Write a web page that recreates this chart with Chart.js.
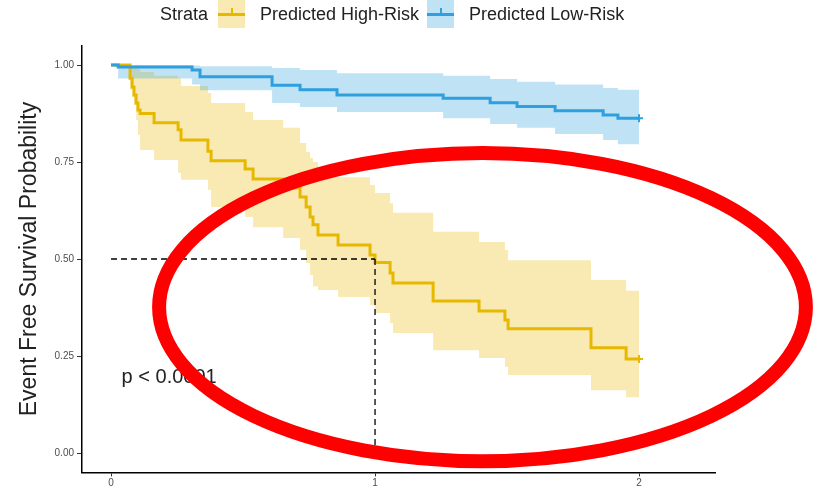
<!DOCTYPE html>
<html>
<head>
<meta charset="utf-8">
<script src="https://cdn.jsdelivr.net/npm/chart.js@4.4.1/dist/chart.umd.min.js"></script>
<style>
html,body{margin:0;padding:0;background:#fff;}
#wrap{position:relative;width:816px;height:490px;font-family:"Liberation Sans",Arial,Helvetica,sans-serif;}
canvas{position:absolute;left:0;top:0;}
#legend{position:absolute;left:160px;top:0;height:28px;display:flex;align-items:center;font-size:18px;color:#222;white-space:nowrap;}
#legend .key{position:relative;width:27px;height:28px;}
#legend .key .ln{position:absolute;left:0;right:0;top:12.5px;height:3px;}
#legend .key .tk{position:absolute;left:12.5px;width:2px;top:8px;height:7px;}
</style>
</head>
<body>
<div id="wrap">
  <canvas id="km" width="816" height="490"></canvas>
  <div id="legend"></div>
</div>
<script>
// Kaplan-Meier estimates (time in years) with 95% confidence limits
const hiTime  = [0, 0.072, 0.080, 0.087, 0.095, 0.102, 0.110, 0.163, 0.254, 0.265, 0.367, 0.379, 0.508, 0.538, 0.652, 0.716, 0.739, 0.754, 0.765, 0.784, 0.860, 0.981, 1.000, 1.057, 1.068, 1.220, 1.394, 1.492, 1.504, 1.818, 1.951, 2.000];
const hiSurv  = [1, 0.966, 0.943, 0.923, 0.902, 0.884, 0.875, 0.851, 0.833, 0.807, 0.778, 0.753, 0.732, 0.706, 0.683, 0.660, 0.634, 0.608, 0.588, 0.562, 0.536, 0.510, 0.491, 0.464, 0.438, 0.392, 0.366, 0.343, 0.320, 0.271, 0.242, 0.242];
const hiUpper = [1, 1, 0.997, 0.995, 0.992, 0.990, 0.982, 0.972, 0.966, 0.946, 0.928, 0.902, 0.879, 0.858, 0.838, 0.799, 0.776, 0.760, 0.750, 0.737, 0.711, 0.691, 0.670, 0.644, 0.619, 0.570, 0.544, 0.523, 0.497, 0.446, 0.418, 0.418];
const hiLower = [1, 0.936, 0.917, 0.897, 0.858, 0.820, 0.781, 0.755, 0.722, 0.704, 0.678, 0.634, 0.608, 0.582, 0.554, 0.523, 0.490, 0.459, 0.430, 0.420, 0.402, 0.381, 0.361, 0.335, 0.309, 0.265, 0.245, 0.222, 0.201, 0.162, 0.144, 0.144];

const loTime  = [0, 0.027, 0.307, 0.337, 0.610, 0.716, 0.856, 1.258, 1.436, 1.538, 1.682, 1.864, 1.920, 2.000];
const loSurv  = [1, 0.995, 0.987, 0.970, 0.948, 0.936, 0.923, 0.914, 0.903, 0.893, 0.882, 0.871, 0.863, 0.863];
const loUpper = [1, 1, 0.999, 0.997, 0.992, 0.987, 0.979, 0.972, 0.964, 0.957, 0.950, 0.941, 0.936, 0.936];
const loLower = [1, 0.965, 0.950, 0.935, 0.902, 0.892, 0.879, 0.863, 0.848, 0.838, 0.822, 0.807, 0.796, 0.796];

const strataNames = ['Predicted High-Risk', 'Predicted Low-Risk'];
const legendTitle = 'Strata';
const yTitle = 'Event Free Survival Probability';
const pValueText = 'p < 0.0001';

const xTicks = [0, 1, 2];
const xTickLabels = ['0', '1', '2'];
const yTicks = [0, 0.25, 0.5, 0.75, 1];
const yTickLabels = ['0.00', '0.25', '0.50', '0.75', '1.00'];

// styling
const HIGH = '#E7B800', LOW = '#2E9FDF';
const HIGH_BAND = 'rgba(231,184,0,0.3)', LOW_BAND = 'rgba(46,159,223,0.3)';
const FONT = '"Liberation Sans", Arial, Helvetica, sans-serif';
// highlight ring, given in axis units (centre and half-axes)
const RING = {t: 1.407, s: 0.376, rt: 1.225, rs: 0.397, width: 14, color: '#FF0000'};
const PVAL_POS = {t: 0.04, s: 0.195};

const pts = (xs, ys) => xs.map((x, i) => ({x, y: ys[i]}));
const lastPt = (xs, ys) => [{x: xs[xs.length - 1], y: ys[ys.length - 1]}];

// median survival of the high-risk group
const medIdx = hiSurv.findIndex(s => s <= 0.5);
const hiMedian = hiTime[medIdx];

// legend
(function buildLegend() {
  const lg = document.getElementById('legend');
  const t = document.createElement('span');
  t.textContent = legendTitle;
  t.style.marginRight = '10px';
  lg.appendChild(t);
  [[HIGH, HIGH_BAND], [LOW, LOW_BAND]].forEach(([line, band], i) => {
    const k = document.createElement('div');
    k.className = 'key';
    k.style.background = band;
    k.innerHTML = '<div class="ln" style="background:' + line + '"></div><div class="tk" style="background:' + line + '"></div>';
    lg.appendChild(k);
    const s = document.createElement('span');
    s.textContent = strataNames[i];
    s.style.marginLeft = '15px';
    if (i === 0) s.style.marginRight = '8px';
    lg.appendChild(s);
  });
})();

const overlay = {
  id: 'overlay',
  afterDatasetsDraw(chart) {
    const {ctx, scales: {x, y}} = chart;
    ctx.save();
    ctx.font = '20px ' + FONT;
    ctx.fillStyle = '#222';
    ctx.textAlign = 'left';
    ctx.textBaseline = 'middle';
    ctx.fillText(pValueText, x.getPixelForValue(PVAL_POS.t), y.getPixelForValue(PVAL_POS.s));

    const cx = x.getPixelForValue(RING.t), cy = y.getPixelForValue(RING.s);
    const rx = x.getPixelForValue(RING.t + RING.rt) - cx;
    const ry = cy - y.getPixelForValue(RING.s + RING.rs);
    ctx.beginPath();
    ctx.ellipse(cx, cy, rx, ry, 0, 0, Math.PI * 2);
    ctx.strokeStyle = RING.color;
    ctx.lineWidth = RING.width;
    ctx.stroke();
    ctx.restore();
  }
};

const lineDs = (data, color) => ({data, borderColor: color, borderWidth: 3, stepped: 'before', pointRadius: 0, fill: false, borderJoinStyle: 'miter', borderCapStyle: 'butt'});
const bandDs = (data, color, fill) => ({data, borderColor: 'transparent', borderWidth: 0, stepped: 'before', pointRadius: 0, backgroundColor: color, fill});
const markDs = (data, color) => ({data, showLine: false, pointStyle: 'cross', pointRadius: 4, borderColor: color, borderWidth: 2, pointBorderWidth: 2});
const dashDs = (data) => ({data, borderColor: '#000', borderWidth: 1.3, borderDash: [6, 4], pointRadius: 0, fill: false});

new Chart(document.getElementById('km'), {
  type: 'line',
  data: {
    datasets: [
      dashDs([{x: 0, y: 0.5}, {x: hiMedian, y: 0.5}]),
      dashDs([{x: hiMedian, y: 0.5}, {x: hiMedian, y: 0}]),
      markDs(lastPt(loTime, loSurv), LOW),
      markDs(lastPt(hiTime, hiSurv), HIGH),
      lineDs(pts(loTime, loSurv), LOW),
      lineDs(pts(hiTime, hiSurv), HIGH),
      bandDs(pts(loTime, loUpper), LOW_BAND, '+1'),
      bandDs(pts(loTime, loLower), LOW_BAND, false),
      bandDs(pts(hiTime, hiUpper), HIGH_BAND, '+1'),
      bandDs(pts(hiTime, hiLower), HIGH_BAND, false)
    ]
  },
  options: {
    responsive: false,
    devicePixelRatio: 1,
    animation: false,
    events: [],
    layout: {padding: {top: 45.6, right: 100.4, left: 0, bottom: 0}},
    plugins: {
      legend: {display: false},
      tooltip: {enabled: false},
      filler: {drawTime: 'beforeDatasetsDraw'}
    },
    scales: {
      x: {
        type: 'linear', min: -0.11, max: 2.29,
        afterFit: s => { s.height = 17.6; },
        afterBuildTicks: s => { s.ticks = xTicks.map(v => ({value: v})); },
        ticks: {callback: (v) => xTickLabels[xTicks.indexOf(v)], font: {size: 10, family: FONT}, color: '#4d4d4d', padding: 1, maxRotation: 0},
        grid: {display: true, drawOnChartArea: false, drawTicks: true, tickLength: 4, color: '#333', lineWidth: 1},
        border: {display: true, color: '#000', width: 1.5}
      },
      y: {
        type: 'linear', min: -0.05, max: 1.05,
        afterFit: s => { s.width = 82; },
        afterBuildTicks: s => { s.ticks = yTicks.map(v => ({value: v})); },
        ticks: {callback: (v) => yTickLabels[yTicks.indexOf(v)], font: {size: 10, family: FONT}, color: '#4d4d4d', padding: 3},
        grid: {display: true, drawOnChartArea: false, drawTicks: true, tickLength: 5, color: '#333', lineWidth: 1},
        border: {display: true, color: '#000', width: 1.5},
        title: {display: true, text: yTitle, font: {size: 23, family: FONT}, color: '#222', padding: {top: 16, bottom: 0}}
      }
    }
  },
  plugins: [overlay]
});
</script>
</body>
</html>
